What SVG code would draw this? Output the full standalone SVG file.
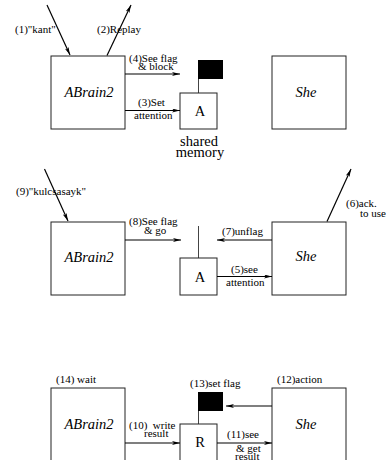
<svg xmlns="http://www.w3.org/2000/svg" width="386" height="460" viewBox="0 0 386 460">
<style>
.box{fill:#fff;stroke:#222;stroke-width:1}
.pole{stroke:#444;stroke-width:1;fill:none}
.flag{fill:#000}
.arr{stroke:#000;stroke-width:1.2;fill:none;marker-end:url(#ah)}
.lbl{font-size:11px;fill:#000}
.big{font-size:14.5px;text-anchor:middle;fill:#000}
.it{font-style:italic}
</style>
<defs>
<marker id="ah" viewBox="0 0 8 4" refX="8" refY="2" markerWidth="8" markerHeight="4" markerUnits="userSpaceOnUse" orient="auto">
<path d="M0,0 L8,2 L0,4 L2,2 z" fill="#000"/>
</marker>
</defs>
<rect width="386" height="460" fill="#fff"/>

<g id="abrain2-1"><rect class="box" x="51" y="56" width="74" height="73"/><text font-family="Liberation Serif" class="big it" x="89" y="97">ABrain2</text></g>
<g id="mem-1"><line class="pole" x1="198.5" y1="79" x2="198.5" y2="93"/><rect class="flag" x="198" y="60" width="25" height="19"/><rect class="box" x="180" y="93" width="37" height="36"/><text font-family="Liberation Serif" class="big" x="200" y="116">A</text>
<text font-family="Liberation Serif" class="big" x="199" y="146">shared</text><text font-family="Liberation Serif" class="big" x="200" y="157">memory</text></g>
<g id="she-1"><rect class="box" x="272" y="56" width="74" height="73"/><text font-family="Liberation Serif" class="big it" x="306" y="97">She</text></g>

<g id="abrain2-2"><rect class="box" x="51" y="222" width="74" height="73"/><text font-family="Liberation Serif" class="big it" x="89" y="262">ABrain2</text></g>
<g id="mem-2"><line class="pole" x1="198.5" y1="226" x2="198.5" y2="258"/><rect class="box" x="180" y="258" width="37" height="37"/><text font-family="Liberation Serif" class="big" x="200" y="282">A</text></g>
<g id="she-2"><rect class="box" x="272" y="222" width="74" height="73"/><text font-family="Liberation Serif" class="big it" x="306" y="261">She</text></g>

<g id="abrain2-3"><rect class="box" x="51" y="388" width="74" height="74"/><text font-family="Liberation Serif" class="big it" x="89" y="429">ABrain2</text></g>
<g id="mem-3"><line class="pole" x1="198.5" y1="411" x2="198.5" y2="424"/><rect class="flag" x="198" y="392" width="25" height="19"/><rect class="box" x="180" y="424" width="37" height="40"/><text font-family="Liberation Serif" class="big" x="200" y="447">R</text></g>
<g id="she-3"><rect class="box" x="272" y="388" width="74" height="74"/><text font-family="Liberation Serif" class="big it" x="306" y="428.5">She</text></g>

<g id="connectors">
<line class="arr" x1="47" y1="5" x2="70" y2="55"/>
<line class="arr" x1="107" y1="55.5" x2="131" y2="5"/>
<line class="arr" x1="125" y1="74" x2="180" y2="74"/>
<line class="arr" x1="125" y1="110.5" x2="180" y2="110.5"/>
<line class="arr" x1="44.5" y1="169" x2="68" y2="221"/>
<line class="arr" x1="125" y1="240" x2="181" y2="240"/>
<line class="arr" x1="272" y1="240" x2="217" y2="240"/>
<line class="arr" x1="217" y1="276.5" x2="272" y2="276.5"/>
<line class="arr" x1="327" y1="221.5" x2="351" y2="169"/>
<line class="arr" x1="125" y1="443" x2="180" y2="443"/>
<line class="arr" x1="217" y1="443" x2="272" y2="443"/>
<line class="arr" x1="272" y1="406" x2="226" y2="406"/>
</g>

<g id="labels">
<text font-family="Liberation Serif" class="lbl" x="15" y="33">(1)"kant"</text>
<text font-family="Liberation Serif" class="lbl" x="97" y="33">(2)Replay</text>
<text font-family="Liberation Serif" class="lbl" x="129" y="62">(4)See flag</text>
<text font-family="Liberation Serif" class="lbl" x="138" y="70">&amp; block</text>
<text font-family="Liberation Serif" class="lbl" x="138" y="106">(3)Set</text>
<text font-family="Liberation Serif" class="lbl" x="134" y="118.5">attention</text>
<text font-family="Liberation Serif" class="lbl" x="16" y="195">(9)"kulcsasayk"</text>
<text font-family="Liberation Serif" class="lbl" x="129" y="225">(8)See flag</text>
<text font-family="Liberation Serif" class="lbl" x="144" y="234">&amp; go</text>
<text font-family="Liberation Serif" class="lbl" x="222" y="235">(7)unflag</text>
<text font-family="Liberation Serif" class="lbl" x="346" y="206.5">(6)ack.</text>
<text font-family="Liberation Serif" class="lbl" x="360" y="216.5">to use</text>
<text font-family="Liberation Serif" class="lbl" x="231" y="273">(5)see</text>
<text font-family="Liberation Serif" class="lbl" x="226" y="286">attention</text>
<text font-family="Liberation Serif" class="lbl" x="56" y="382.5">(14) wait</text>
<text font-family="Liberation Serif" class="lbl" x="190" y="387">(13)set flag</text>
<text font-family="Liberation Serif" class="lbl" x="277" y="382.5">(12)action</text>
<text font-family="Liberation Serif" class="lbl" x="129" y="429" xml:space="preserve">(10)  write</text>
<text font-family="Liberation Serif" class="lbl" x="144" y="437">result</text>
<text font-family="Liberation Serif" class="lbl" x="227" y="437.5">(11)see</text>
<text font-family="Liberation Serif" class="lbl" x="236" y="451.5">&amp; get</text>
<text font-family="Liberation Serif" class="lbl" x="235" y="459.5">result</text>
</g>
</svg>
